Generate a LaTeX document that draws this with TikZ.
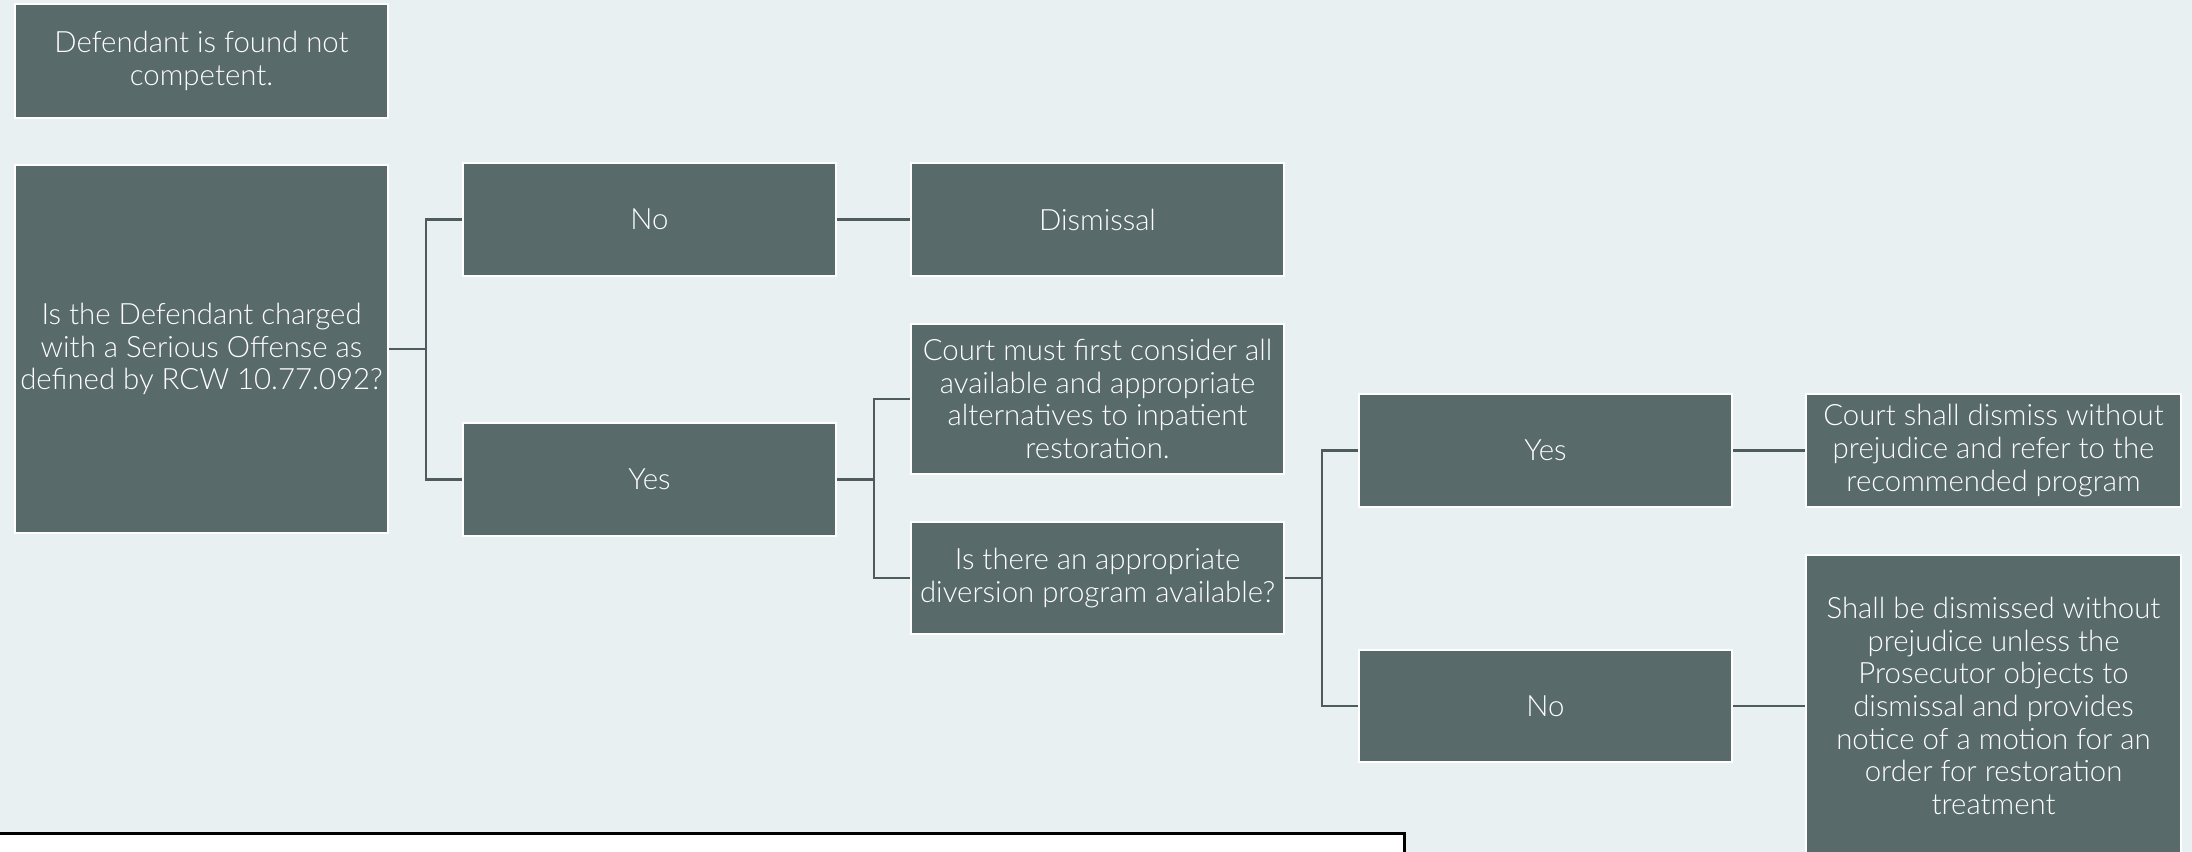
\documentclass[tikz,border=0pt]{standalone}
\usepackage{fontspec}
\setmainfont{Lato Light}
\begin{document}
\begin{tikzpicture}[x=0.01cm,y=-0.01cm,
  box/.style={fill=boxfill,draw=white,line width=0.6pt,text=white,align=center,
    inner xsep=0pt,inner ysep=1pt,minimum width=3.73cm,
    font=\fontsize{8.35}{9.3}\selectfont},
  conn/.style={draw=connc,line width=0.8pt}]
\definecolor{bg}{HTML}{E8F0F2}
\definecolor{boxfill}{HTML}{596A6B}
\definecolor{connc}{HTML}{4E5C5E}
\useasboundingbox (0,0) rectangle (2192,852);
\clip (0,0) rectangle (2192,852);
\fill[bg] (0,0) rectangle (2192,852);
% nodes
\node[box,minimum height=1.14cm] (comp) at (201.5,61) {Defendant is found not\\competent.};
\node[box,minimum height=3.68cm] (q1) at (201.5,349) {Is the Defendant charged\\with a Serious Offense as\\defined by RCW 10.77.092?};
\node[box,minimum height=1.13cm] (no1) at (649.5,219.5) {No};
\node[box,minimum height=1.13cm] (dis) at (1097.5,219.5) {Dismissal};
\node[box,minimum height=1.13cm] (yes1) at (649.5,479.5) {Yes};
\node[box,minimum height=1.50cm] (court) at (1097.5,399) {Court must first consider all\\available and appropriate\\alternatives to inpatient\\restoration.};
\node[box,minimum height=1.12cm] (q2) at (1097.5,578) {Is there an appropriate\\diversion program available?};
\node[box,minimum height=1.13cm] (yes2) at (1545.5,450.5) {Yes};
\node[box,minimum height=1.12cm] (no2) at (1545.5,706) {No};
\node[box,minimum height=1.13cm,minimum width=3.75cm] (shall) at (1993.5,450.5) {Court shall dismiss without\\prejudice and refer to the\\recommended program};
\node[box,minimum height=3.02cm,minimum width=3.75cm] (shallb) at (1993.5,706) {Shall be dismissed without\\prejudice unless the\\Prosecutor objects to\\dismissal and provides\\notice of a motion for an\\order for restoration\\treatment};
% connectors
\coordinate (j1) at (426,349);
\coordinate (j2) at (874,479.5);
\coordinate (j3) at (1322,578);
\draw[conn] (q1.east) -- (j1) |- (no1.west);
\draw[conn] (j1) |- (yes1.west);
\draw[conn] (no1.east) -- (dis.west);
\draw[conn] (yes1.east) -- (j2) |- (court.west);
\draw[conn] (j2) |- (q2.west);
\draw[conn] (q2.east) -- (j3) |- (yes2.west);
\draw[conn] (j3) |- (no2.west);
\draw[conn] (yes2.east) -- (shall.west);
\draw[conn] (no2.east) -- (shallb.west);
% bottom panel
\node[draw=black,fill=white,line width=0.8pt,minimum width=14.2cm,minimum height=0.6cm,inner sep=0pt,anchor=north east] (panel) at (1406,832) {};
\end{tikzpicture}
\end{document}
